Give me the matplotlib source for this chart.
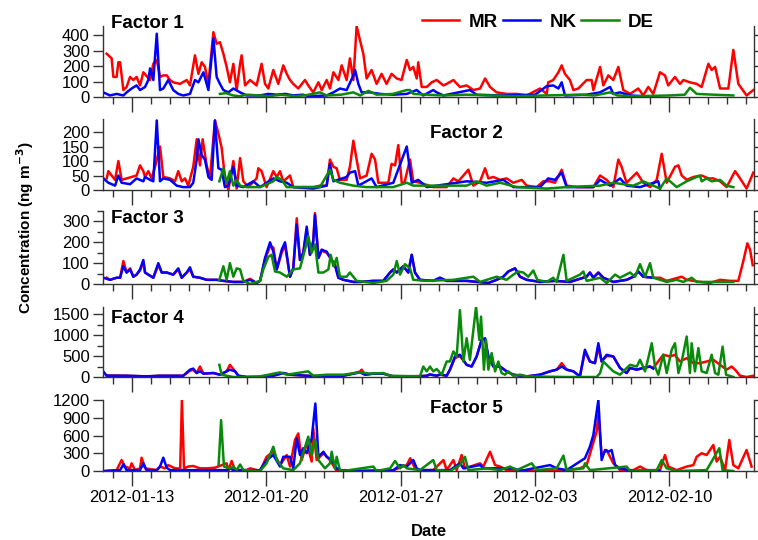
import matplotlib
matplotlib.use("Agg")
import matplotlib.pyplot as plt
import matplotlib.dates as mdates
from matplotlib.ticker import MultipleLocator, FixedLocator
from datetime import datetime, timedelta

plt.rcParams['font.family'] = ['Liberation Sans', 'DejaVu Sans']

# time origin of the series, offsets below are in days
START = datetime(2012, 1, 11, 12)
SITES = ['MR', 'NK', 'DE']
COLORS = ['#ff0000', '#0000ff', '#0a8a0a']
FACTORS = ['Factor 1', 'Factor 2', 'Factor 3', 'Factor 4', 'Factor 5']
YMAX = [460, 245, 350, 1670, 1200]
YSTEP = [100, 50, 100, 500, 300]
YMINOR = [None, None, 50, 250, None]
DATE_TICKS = [datetime(2012, 1, 13), datetime(2012, 1, 20), datetime(2012, 1, 27),
              datetime(2012, 2, 3), datetime(2012, 2, 10)]

# (day offset, concentration in ng m-3)
F1_MR = [(0.19, 280), (0.45, 250), (0.54, 130), (0.71, 130), (0.80, 225), (0.89, 225), (1.06, 45), (1.23, 65),
         (1.41, 130), (1.58, 110), (1.75, 130), (1.93, 75), (2.10, 160), (2.45, 110), (2.62, 215), (2.80, 240),
         (2.97, 130), (3.14, 140), (3.32, 140), (3.49, 110), (3.66, 95), (4.01, 85), (4.36, 110), (4.53, 75),
         (4.79, 270), (4.97, 150), (5.14, 225), (5.31, 195), (5.49, 85), (5.75, 420), (5.92, 345), (6.09, 355),
         (6.27, 280), (6.44, 195), (6.61, 95), (6.79, 215), (6.96, 45), (7.14, 215), (7.22, 270), (7.40, 75),
         (7.66, 110), (8.00, 75), (8.26, 215), (8.44, 85), (8.61, 55), (8.87, 175), (9.13, 85), (9.39, 205),
         (9.57, 150), (9.74, 110), (9.91, 85), (10.17, 55), (10.52, 110), (10.69, 75), (10.95, 30), (11.22, 95),
         (11.39, 45), (11.65, 110), (11.82, 55), (12.00, 160), (12.26, 110), (12.43, 205), (12.69, 110),
         (12.86, 250), (13.04, 110), (13.21, 460), (13.39, 365), (13.56, 280), (13.73, 120), (13.99, 175),
         (14.25, 85), (14.51, 150), (14.77, 85), (15.03, 150), (15.30, 120), (15.55, 110), (15.82, 240),
         (15.99, 175), (16.16, 195), (16.34, 120), (16.42, 225), (16.60, 65), (16.86, 65), (17.12, 95),
         (17.38, 110), (17.73, 75), (17.90, 85), (18.25, 110), (18.59, 65), (18.94, 75), (19.29, 45), (19.64, 55),
         (19.90, 120), (20.16, 65), (20.50, 30), (21.02, 20), (21.55, 20), (22.07, 10), (22.76, 55), (23.11, 20),
         (23.19, 95), (23.45, 110), (23.72, 160), (23.89, 205), (24.06, 150), (24.32, 110), (24.50, 45),
         (24.76, 55), (25.19, 110), (25.45, 110), (25.54, 45), (25.89, 195), (26.06, 75), (26.32, 140),
         (26.58, 110), (26.84, 195), (27.10, 45), (27.45, 20), (27.88, 55), (28.14, 10), (28.40, 65), (28.66, 20),
         (29.01, 160), (29.27, 140), (29.44, 75), (29.79, 130), (30.05, 85), (30.23, 110), (30.57, 95),
         (30.92, 85), (31.18, 65), (31.53, 215), (31.70, 175), (31.88, 195), (32.14, 55), (32.57, 55),
         (32.83, 305), (33.09, 85), (33.52, 10), (33.87, 45)]
F1_NK = [(0.02, 30), (0.36, 10), (0.71, 20), (1.06, 10), (1.23, 30), (1.49, 55), (1.75, 75), (1.93, 45), (2.19, 65),
         (2.36, 110), (2.45, 185), (2.62, 110), (2.80, 410), (2.97, 45), (3.14, 55), (3.40, 110), (3.66, 45),
         (3.92, 20), (4.18, 10), (4.53, 20), (4.79, 110), (4.97, 95), (5.23, 160), (5.49, 45), (5.75, 380),
         (5.92, 130), (6.09, 85), (6.27, 45), (6.53, 30), (6.79, 55), (7.14, 30), (7.48, 10), (8.18, 10),
         (8.60, 20), (9.05, 15), (9.50, 20), (9.91, 10), (10.40, 15), (10.78, 5), (11.65, 10), (12.00, 30),
         (12.34, 55), (12.69, 45), (13.04, 140), (13.13, 175), (13.30, 85), (13.47, 30), (13.91, 30), (14.43, 20),
         (15.12, 15), (15.82, 20), (16.34, 45), (16.68, 10), (17.20, 45), (17.38, 30), (17.73, 10), (19.11, 45),
         (19.46, 15), (20.68, 10), (22.50, 15), (23.11, 70), (23.45, 75), (23.72, 55), (23.89, 95), (24.06, 10),
         (25.19, 15), (25.89, 30), (26.41, 65), (26.58, 20), (26.93, 30), (27.45, 10), (28.84, 0)]
F1_DE = [(6.09, 20), (6.40, 25), (6.79, 10), (7.10, 5), (7.50, 15), (8.18, 10), (8.60, 5), (9.30, 15), (10.00, 5),
         (10.60, 12), (11.30, 30), (11.65, 10), (12.40, 15), (13.04, 30), (13.40, 10), (13.82, 40), (14.25, 15),
         (15.10, 20), (15.82, 45), (15.99, 45), (16.16, 20), (16.90, 15), (17.73, 10), (18.90, 15), (20.07, 10),
         (21.50, 5), (23.00, 10), (24.84, 15), (25.60, 10), (26.41, 30), (26.80, 10), (27.62, 5), (29.50, 10),
         (30.30, 15), (30.57, 60), (30.92, 20), (31.80, 15), (32.83, 10)]

F2_MR = [(0.19, 40), (0.28, 65), (0.45, 50), (0.63, 35), (0.80, 100), (0.97, 35), (1.23, 40), (1.49, 45),
         (1.75, 50), (1.93, 85), (2.10, 65), (2.19, 45), (2.36, 65), (2.53, 40), (2.71, 80), (2.97, 150),
         (3.14, 45), (3.49, 40), (3.75, 30), (3.92, 65), (4.10, 30), (4.27, 40), (4.44, 15), (4.70, 80),
         (4.88, 175), (5.05, 85), (5.19, 175), (5.40, 85), (5.57, 40), (5.83, 240), (6.01, 195), (6.18, 145),
         (6.35, 45), (6.53, 0), (6.79, 100), (6.96, 5), (7.14, 110), (7.31, 30), (7.57, 10), (8.00, 40),
         (8.09, 75), (8.26, 65), (8.52, 10), (8.87, 65), (9.05, 45), (9.22, 65), (9.39, 30), (9.74, 50),
         (9.91, 10), (10.26, 10), (10.95, 10), (11.30, 15), (11.65, 15), (11.82, 105), (12.00, 80), (12.17, 75),
         (12.34, 35), (12.69, 35), (12.86, 80), (13.04, 170), (13.21, 105), (13.39, 40), (13.73, 50),
         (13.99, 125), (14.17, 105), (14.34, 25), (14.86, 25), (15.03, 90), (15.21, 85), (15.38, 155),
         (15.56, 25), (15.70, 25), (15.99, 105), (16.16, 30), (16.51, 25), (17.20, 10), (17.90, 10), (18.25, 40),
         (18.51, 30), (18.77, 50), (19.03, 70), (19.29, 15), (19.64, 30), (19.90, 75), (20.07, 40), (20.33, 45),
         (20.68, 35), (21.02, 40), (21.37, 25), (21.81, 35), (22.07, 15), (22.59, 10), (22.93, 30), (23.28, 30),
         (23.54, 25), (23.89, 70), (24.15, 15), (24.67, 10), (25.19, 10), (25.54, 10), (25.89, 50), (26.23, 35),
         (26.58, 10), (26.84, 105), (27.01, 80), (27.27, 25), (27.80, 60), (28.14, 25), (28.49, 10), (28.84, 35),
         (29.10, 125), (29.36, 25), (29.79, 80), (29.97, 85), (30.14, 50), (30.40, 35), (30.75, 45), (31.18, 50),
         (31.53, 40), (31.79, 40), (32.14, 30), (32.48, 10), (32.92, 65), (33.18, 40), (33.52, 5), (33.87, 60)]
F2_NK = [(0.02, 40), (0.28, 25), (0.63, 15), (0.80, 50), (0.97, 25), (1.41, 20), (1.75, 40), (2.10, 30),
         (2.19, 45), (2.45, 35), (2.62, 30), (2.80, 240), (2.97, 30), (3.14, 40), (3.49, 35), (3.84, 15),
         (4.18, 10), (4.53, 10), (4.70, 25), (4.88, 105), (4.97, 175), (5.14, 120), (5.31, 105), (5.49, 45),
         (5.66, 35), (5.83, 240), (6.01, 75), (6.18, 70), (6.35, 10), (6.53, 15), (6.79, 80), (6.96, 15),
         (7.31, 10), (7.83, 30), (8.18, 10), (8.87, 40), (9.22, 30), (9.57, 25), (9.91, 10), (10.95, 5),
         (11.65, 15), (11.82, 90), (12.00, 30), (12.69, 45), (12.86, 60), (13.13, 65), (13.30, 15), (13.99, 40),
         (14.25, 10), (15.12, 25), (15.82, 150), (16.08, 25), (16.42, 35), (16.86, 10), (18.94, 30), (19.98, 25),
         (20.85, 35), (21.37, 10), (22.76, 10), (23.19, 40), (23.54, 35), (23.89, 60), (24.15, 10), (25.54, 10),
         (25.89, 35), (26.41, 15), (26.93, 40), (27.27, 15), (27.97, 10), (28.92, 30), (29.01, 5)]
F2_DE = [(6.06, 30), (6.27, 75), (6.44, 25), (6.61, 65), (6.79, 15), (6.96, 35), (7.14, 15), (7.48, 10),
         (8.18, 10), (8.87, 30), (9.05, 45), (9.31, 35), (9.57, 10), (10.26, 10), (11.30, 10), (11.65, 50),
         (11.82, 70), (12.00, 35), (12.34, 25), (13.04, 15), (13.73, 10), (14.43, 10), (15.12, 10), (15.82, 25),
         (16.16, 15), (16.51, 15), (17.20, 15), (17.90, 15), (18.94, 15), (19.46, 30), (19.98, 15), (20.68, 25),
         (21.55, 10), (23.11, 5), (24.15, 10), (25.89, 15), (26.58, 25), (27.62, 15), (28.14, 30), (28.66, 15),
         (29.01, 5), (29.36, 40), (29.88, 10), (30.40, 30), (31.09, 50), (31.18, 30), (31.44, 40), (31.70, 30),
         (32.14, 35), (32.48, 15), (32.83, 10)]

F3_MR = [(0.19, 30), (0.36, 20), (0.71, 30), (0.89, 30), (1.06, 110), (1.23, 55), (1.41, 75), (1.58, 35),
         (1.75, 45), (1.93, 65), (2.10, 105), (2.19, 55), (2.36, 45), (2.62, 30), (2.88, 90), (3.06, 55),
         (3.32, 55), (3.66, 45), (3.92, 70), (4.10, 30), (4.36, 55), (4.53, 70), (4.70, 35), (5.05, 30),
         (5.40, 20), (5.92, 20), (6.27, 15), (6.79, 10), (7.31, 10), (7.66, 25), (8.00, 5), (8.18, 15),
         (8.44, 120), (8.70, 180), (8.87, 175), (9.05, 70), (9.31, 150), (9.48, 185), (9.74, 35), (9.91, 75),
         (10.09, 315), (10.26, 115), (10.43, 150), (10.61, 255), (10.78, 140), (10.95, 210), (11.04, 340),
         (11.22, 125), (11.39, 160), (11.65, 150), (11.91, 115), (12.08, 95), (12.26, 30), (12.52, 20),
         (13.04, 10), (13.39, 10), (14.08, 15), (14.60, 15), (14.95, 55), (15.12, 70), (15.30, 55), (15.64, 85),
         (15.90, 55), (16.08, 140), (16.25, 55), (16.51, 20), (17.20, 15), (17.55, 30), (17.90, 15), (18.94, 15),
         (20.07, 5), (20.50, 20), (20.85, 35), (21.11, 60), (21.46, 75), (21.72, 35), (22.07, 20), (22.76, 10),
         (23.54, 15), (24.32, 10), (25.19, 35), (25.36, 55), (25.54, 30), (25.80, 55), (26.06, 30), (26.58, 10),
         (27.27, 20), (27.62, 35), (27.88, 60), (28.14, 35), (28.66, 30), (29.01, 30), (29.36, 15), (30.14, 35),
         (30.40, 20), (31.09, 10), (31.61, 5), (32.14, 20), (32.66, 15), (33.09, 15), (33.35, 110), (33.56, 195),
         (33.70, 165), (33.84, 90)]
F3_NK = [(0.02, 30), (0.36, 20), (0.71, 30), (0.89, 30), (1.06, 85), (1.23, 55), (1.41, 70), (1.58, 35),
         (1.75, 45), (1.93, 70), (2.10, 115), (2.19, 55), (2.36, 45), (2.62, 30), (2.88, 100), (3.06, 55),
         (3.32, 55), (3.66, 45), (3.92, 75), (4.10, 30), (4.36, 55), (4.53, 80), (4.70, 35), (5.05, 30),
         (5.40, 20), (5.92, 20), (6.27, 15), (6.79, 10), (7.31, 10), (7.66, 20), (8.00, 5), (8.18, 15),
         (8.44, 125), (8.70, 200), (8.87, 155), (9.05, 70), (9.31, 165), (9.48, 200), (9.74, 35), (9.91, 75),
         (10.09, 285), (10.26, 115), (10.43, 150), (10.61, 275), (10.78, 140), (10.95, 200), (11.04, 330),
         (11.22, 125), (11.39, 165), (11.65, 155), (11.91, 115), (12.08, 90), (12.26, 30), (12.52, 20),
         (13.04, 10), (13.39, 10), (14.08, 15), (14.60, 15), (14.95, 55), (15.12, 70), (15.30, 55), (15.64, 85),
         (15.90, 55), (16.08, 140), (16.25, 55), (16.51, 20), (17.20, 15), (17.55, 30), (17.90, 15), (18.94, 15),
         (20.07, 5), (20.50, 20), (20.85, 35), (21.11, 60), (21.46, 75), (21.72, 35), (22.07, 20), (22.76, 10),
         (23.54, 15), (24.32, 10), (25.19, 35), (25.36, 55), (25.54, 30), (25.80, 55), (26.06, 30), (26.58, 10),
         (27.27, 20), (27.62, 35), (27.88, 60), (28.14, 35), (28.66, 30)]
F3_DE = [(6.06, 20), (6.27, 85), (6.44, 20), (6.61, 100), (6.79, 35), (6.96, 75), (7.14, 70), (7.31, 15),
         (7.66, 0), (8.18, 15), (8.35, 70), (8.61, 130), (8.78, 140), (8.96, 60), (9.22, 55), (9.57, 35),
         (9.91, 70), (10.26, 75), (10.52, 165), (10.69, 230), (10.87, 150), (11.04, 190), (11.22, 55),
         (11.48, 55), (11.74, 70), (11.86, 140), (12.00, 85), (12.17, 125), (12.34, 35), (12.69, 35), (12.86, 55),
         (13.21, 15), (14.08, 5), (14.77, 15), (15.12, 45), (15.30, 110), (15.47, 45), (15.73, 95), (15.99, 75),
         (16.16, 20), (16.86, 15), (18.25, 20), (19.29, 35), (19.64, 10), (20.50, 35), (21.02, 20), (21.37, 45),
         (21.63, 60), (21.89, 55), (22.15, 35), (22.41, 65), (22.62, 20), (23.11, 10), (23.45, 30), (23.63, 10),
         (23.98, 140), (24.15, 15), (24.50, 30), (24.84, 45), (25.02, 60), (25.19, 15), (25.89, 30), (26.23, 5),
         (26.67, 45), (26.93, 30), (27.45, 55), (27.71, 35), (27.97, 95), (28.23, 35), (28.49, 100), (28.66, 30),
         (29.01, 20), (29.36, 10), (29.88, 20), (30.23, 10), (30.66, 30), (30.92, 10), (31.70, 10), (32.83, 10)]

F4_MR = [(0.19, 40), (1.23, 30), (2.27, 15), (2.97, 30), (4.18, 30), (4.53, 150), (4.70, 170), (4.88, 95),
         (5.05, 250), (5.23, 80), (5.75, 95), (6.09, 55), (6.44, 135), (6.61, 290), (6.88, 135), (7.05, 30),
         (7.48, 0), (8.18, 0), (8.87, 30), (9.39, 95), (9.74, 55), (10.61, 30), (11.65, 15), (12.52, 30),
         (13.39, 130), (13.47, 175), (13.65, 55), (14.08, 80), (14.60, 80), (15.12, 15), (16.51, 20), (16.86, 30),
         (17.03, 60), (17.38, 30), (17.55, 60), (17.90, 30), (18.07, 175), (18.33, 450), (18.59, 500),
         (18.94, 290), (19.20, 250), (19.46, 490), (19.72, 885), (19.90, 885), (20.07, 490), (20.33, 250),
         (20.68, 250), (21.02, 135), (21.37, 55), (22.07, 15), (22.76, 55), (23.28, 135), (23.63, 175),
         (23.89, 330), (24.15, 175), (24.50, 135), (24.84, 15), (25.10, 600), (25.36, 370), (25.62, 330),
         (25.80, 700), (25.97, 370), (26.23, 500), (26.58, 490), (26.93, 215), (27.27, 95), (27.45, 215),
         (27.80, 175), (28.14, 215), (28.49, 250), (28.66, 215), (29.18, 530), (29.53, 490), (29.79, 530),
         (30.05, 370), (30.40, 450), (30.75, 330), (31.09, 330), (31.44, 370), (31.79, 410), (32.14, 290),
         (32.48, 175), (32.74, 250), (32.92, 175), (33.18, 30), (33.52, 0), (33.87, 30)]
F4_NK = [(0.02, 130), (0.19, 30), (1.23, 30), (2.27, 15), (2.97, 30), (4.18, 30), (4.53, 175), (4.70, 200),
         (4.88, 95), (5.05, 135), (5.23, 80), (5.75, 95), (6.09, 55), (6.44, 135), (6.61, 175), (6.88, 135),
         (7.05, 30), (7.48, 0), (8.18, 0), (8.87, 30), (9.39, 95), (9.74, 55), (10.61, 30), (11.65, 15),
         (12.52, 30), (13.39, 110), (13.56, 70), (13.65, 55), (14.08, 80), (14.60, 80), (15.12, 15), (16.51, 20),
         (16.86, 30), (17.03, 60), (17.38, 30), (17.55, 60), (17.90, 30), (18.07, 175), (18.33, 490),
         (18.59, 530), (18.94, 290), (19.20, 250), (19.46, 490), (19.72, 885), (19.90, 925), (20.07, 490),
         (20.33, 250), (20.68, 250), (21.02, 135), (21.37, 55), (22.07, 15), (22.76, 55), (23.28, 135),
         (23.63, 175), (23.89, 250), (24.15, 175), (24.50, 135), (24.84, 15), (25.10, 650), (25.36, 370),
         (25.62, 330), (25.80, 805), (25.97, 370), (26.23, 530), (26.58, 490), (26.93, 215), (27.27, 95),
         (27.45, 215), (27.80, 175), (28.14, 215), (28.49, 250), (28.66, 200)]
F4_DE = [(6.06, 290), (6.18, 55), (6.44, 30), (6.79, 0), (7.48, 0), (8.18, 15), (9.22, 110), (9.57, 55),
         (10.69, 135), (10.95, 30), (11.65, 55), (12.52, 55), (13.39, 110), (13.91, 80), (14.60, 95), (14.95, 30),
         (16.51, 15), (16.68, 250), (16.86, 135), (17.03, 250), (17.20, 135), (17.38, 190), (17.64, 55),
         (17.90, 370), (18.07, 370), (18.25, 610), (18.42, 490), (18.59, 1595), (18.77, 370), (18.94, 925),
         (19.11, 410), (19.43, 1675), (19.60, 885), (19.69, 1440), (19.84, 175), (19.95, 885), (20.07, 175),
         (20.24, 570), (20.42, 135), (20.59, 370), (20.76, 95), (20.94, 55), (21.11, 135), (21.37, 30),
         (21.72, 55), (22.07, 15), (24.15, 0), (25.71, 0), (25.89, 95), (26.06, 370), (26.32, 250), (26.58, 135),
         (26.93, 55), (27.19, 175), (27.45, 290), (27.80, 250), (27.97, 410), (28.23, 135), (28.40, 450),
         (28.58, 805), (28.75, 250), (28.92, 55), (29.18, 530), (29.36, 95), (29.62, 650), (29.79, 805),
         (29.97, 95), (30.14, 370), (30.40, 965), (30.57, 95), (30.66, 805), (30.83, 135), (31.01, 690),
         (31.18, 135), (31.44, 95), (31.70, 530), (31.88, 95), (32.05, 55), (32.27, 725), (32.45, 55), (32.83, 0)]

F5_MR = [(0.19, 0), (0.71, 15), (0.97, 185), (1.15, 75), (1.41, 45), (1.49, 130), (1.67, 15), (1.93, 45),
         (2.01, 225), (2.19, 45), (2.80, 15), (2.97, 75), (3.23, 45), (3.40, 100), (3.75, 45), (4.02, 40),
         (4.11, 1200), (4.22, 45), (4.44, 75), (4.70, 85), (5.05, 45), (5.40, 45), (5.83, 55), (6.44, 130),
         (6.53, 0), (6.70, 170), (6.88, 15), (7.48, 15), (7.66, 45), (8.18, 0), (8.52, 240), (8.87, 325),
         (9.22, 100), (9.57, 270), (9.74, 75), (10.00, 525), (10.17, 635), (10.35, 185), (10.61, 465),
         (10.87, 160), (10.95, 720), (11.13, 185), (11.48, 300), (11.82, 185), (12.17, 0), (12.52, 15),
         (13.50, 5), (14.50, 10), (15.12, 15), (15.82, 100), (16.00, 215), (16.25, 45), (16.51, 15), (17.20, 15),
         (17.73, 185), (17.90, 15), (18.25, 185), (18.42, 15), (18.68, 270), (18.85, 45), (19.64, 130),
         (19.81, 75), (20.16, 325), (20.42, 100), (20.68, 75), (21.02, 15), (21.55, 15), (22.41, 0), (23.80, 0),
         (24.84, 45), (25.19, 100), (25.45, 385), (25.71, 665), (25.80, 945), (25.97, 270), (26.23, 355),
         (26.58, 130), (26.93, 15), (27.62, 15), (27.97, 75), (28.32, 15), (29.01, 15), (29.27, 270), (29.44, 75),
         (29.88, 15), (30.40, 75), (30.75, 100), (30.92, 240), (31.18, 300), (31.44, 270), (31.79, 440),
         (31.96, 160), (32.14, 240), (32.40, 15), (32.62, 525), (32.83, 100), (33.09, 45), (33.52, 355),
         (33.78, 75)]
F5_NK = [(0.02, 0), (0.89, 15), (1.06, 110), (1.23, 15), (1.93, 15), (2.10, 130), (2.27, 15), (2.80, 15),
         (2.97, 75), (3.14, 225), (3.32, 55), (3.49, 15), (4.01, 15), (6.44, 15), (6.61, 45), (6.79, 15),
         (8.18, 15), (8.52, 185), (8.87, 270), (9.22, 75), (9.39, 240), (9.74, 240), (9.91, 45), (10.09, 550),
         (10.26, 270), (10.43, 385), (10.61, 300), (10.87, 550), (11.06, 1140), (11.22, 240), (11.48, 325),
         (11.65, 240), (11.91, 185), (12.17, 45), (12.52, 0), (13.39, 0), (15.12, 10), (15.47, 100), (15.82, 75),
         (16.16, 185), (16.34, 45), (16.51, 15), (18.07, 15), (18.59, 130), (18.77, 45), (19.64, 100),
         (19.81, 45), (21.37, 45), (21.72, 0), (23.28, 100), (23.63, 45), (24.15, 15), (25.10, 215), (25.36, 410),
         (25.54, 610), (25.80, 1200), (25.97, 185), (26.15, 355), (26.32, 325), (26.49, 355), (26.67, 100),
         (26.93, 45), (27.62, 0), (28.32, 15), (29.01, 0)]
F5_DE = [(6.02, 100), (6.15, 860), (6.30, 75), (6.61, 45), (6.79, 75), (6.96, 15), (7.14, 110), (7.31, 15),
         (8.18, 0), (8.52, 130), (8.87, 410), (9.05, 185), (9.39, 45), (9.91, 15), (10.26, 130), (10.69, 580),
         (10.87, 270), (11.04, 525), (11.22, 185), (11.56, 45), (11.82, 130), (11.91, 325), (12.08, 45),
         (12.17, 240), (12.34, 15), (12.52, 0), (14.08, 75), (14.25, 0), (14.95, 45), (15.21, 170), (15.47, 45),
         (15.64, 100), (15.82, 45), (16.51, 15), (17.20, 185), (17.38, 15), (18.07, 0), (18.59, 100),
         (18.85, 240), (19.03, 15), (19.98, 45), (20.68, 15), (21.20, 75), (21.55, 15), (22.33, 130), (22.59, 15),
         (23.63, 45), (23.98, 260), (24.15, 15), (25.02, 45), (25.10, 130), (25.36, 15), (27.27, 75), (27.45, 0),
         (28.84, 15), (29.10, 185), (29.36, 45), (29.88, 0), (31.44, 15), (32.10, 385), (32.27, 15), (32.83, 0)]

DATA = [(F1_MR, F1_NK, F1_DE), (F2_MR, F2_NK, F2_DE), (F3_MR, F3_NK, F3_DE),
        (F4_MR, F4_NK, F4_DE), (F5_MR, F5_NK, F5_DE)]


def unpack(pts):
    return [START + timedelta(days=t) for t, _ in pts], [v for _, v in pts]


W, H = 758, 540
fig = plt.figure(figsize=(W / 100, H / 100), dpi=100)

tops = [26, 119, 211, 307, 400]
bottoms = [97, 190, 284, 377, 471]
left, right = 103, 754
title_pos = [(111, 28), (430, 138), (111, 223), (111, 323), (430, 413)]

xmin = START
xmax = START + timedelta(days=(right - left) / 19.2)

axes = []
for k in range(5):
    ax = fig.add_axes([left / W, 1 - bottoms[k] / H, (right - left) / W, (bottoms[k] - tops[k]) / H])
    for series, color, site in zip(DATA[k], COLORS, SITES):
        x, y = unpack(series)
        ax.plot(x, y, color=color, lw=1.8, label=site, solid_joinstyle='round')
    ax.set_xlim(xmin, xmax)
    ax.set_ylim(0, YMAX[k])
    ax.yaxis.set_major_locator(MultipleLocator(YSTEP[k]))
    if YMINOR[k]:
        ax.yaxis.set_minor_locator(MultipleLocator(YMINOR[k]))
    ax.xaxis.set_major_locator(FixedLocator(mdates.date2num(DATE_TICKS)))
    ax.xaxis.set_minor_locator(mdates.DayLocator())
    ax.xaxis.set_major_formatter(mdates.DateFormatter('%Y-%m-%d'))
    ax.spines['top'].set_visible(False)
    for s in ['left', 'bottom', 'right']:
        ax.spines[s].set_linewidth(1.0)
        ax.spines[s].set_color('#333333')
    ax.tick_params(axis='y', which='major', direction='out', length=7.5, width=1, labelsize=12,
                   right=True, colors='#333333', labelcolor='black', pad=2)
    ax.tick_params(axis='y', which='minor', direction='out', length=4, width=1, right=True, colors='#333333')
    ax.tick_params(axis='x', which='major', direction='out', length=11, width=1, labelsize=12,
                   colors='#333333', labelcolor='black', pad=3)
    ax.tick_params(axis='x', which='minor', direction='out', length=5, width=1, colors='#333333')
    if k < 4:
        ax.tick_params(axis='x', labelbottom=False)
    ax.patch.set_alpha(0)
    fig.text(title_pos[k][0] / W, 1 - title_pos[k][1] / H, FACTORS[k], fontsize=13.5,
             fontweight='bold', ha='left', va='baseline')
    axes.append(ax)

fig.text(25 / W, 1 - 228 / H, 'Concentration (ng m$^{\\mathbf{-3}}$)', rotation=90, fontsize=11,
         fontweight='bold', ha='center', va='center')
fig.text((left + right) / 2 / W, 1 - 531 / H, 'Date', fontsize=12, fontweight='bold',
         ha='center', va='center')

handles, labels = axes[0].get_legend_handles_labels()
fig.legend(handles, labels, loc='center', bbox_to_anchor=(538 / W, 1 - 22 / H), ncol=3, frameon=False,
           handlelength=2.0, handletextpad=0.5, columnspacing=0.25,
           prop={'weight': 'bold', 'size': 13.5})

fig.savefig('out.png', dpi=100)
